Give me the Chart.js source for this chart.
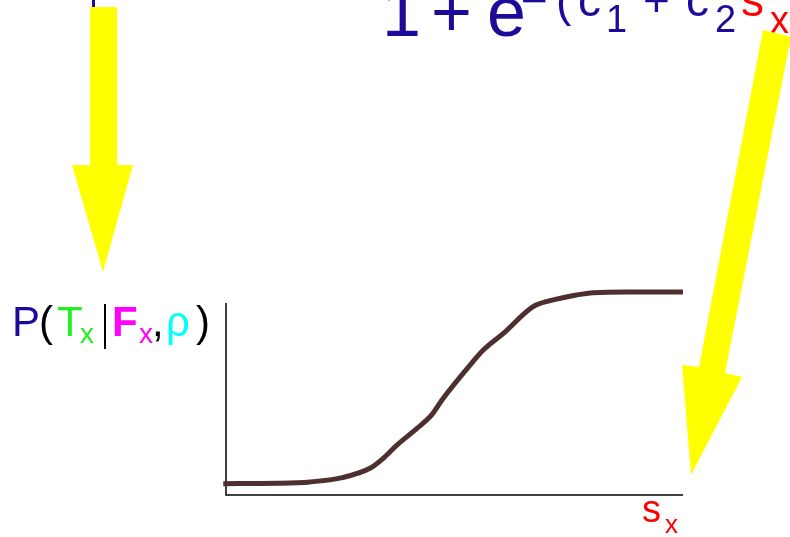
<!DOCTYPE html>
<html>
<head>
<meta charset="utf-8">
<script src="https://cdn.jsdelivr.net/npm/chart.js@4/dist/chart.umd.min.js"></script>
<style>
  html, body { margin: 0; padding: 0; background: #fff; }
  canvas { display: block; }
</style>
</head>
<body>
<canvas id="sigmoid" width="790" height="537"></canvas>
<script>
// s_x along the horizontal axis, P(T_x | F_x, rho) on the vertical one
var sValues = [-0.06, 1.11, 1.84, 2.57, 3.15, 3.44, 3.74, 4.18, 4.5, 4.75, 5.34, 5.63, 6.07, 6.72, 7.09, 7.67, 8.04, 8.77, 10];
var pValues = [0.059, 0.061, 0.068, 0.092, 0.139, 0.191, 0.26, 0.347, 0.417, 0.503, 0.677, 0.755, 0.842, 0.981, 1.012, 1.042, 1.054, 1.057, 1.057];

var BLUE = '#1c0a99';
var FONT = '"Liberation Sans", Arial, sans-serif';

function piece(ctx, text, x, y, size, color, bold) {
  ctx.font = (bold ? 'bold ' : '') + size + 'px ' + FONT;
  ctx.fillStyle = color;
  ctx.fillText(text, x, y);
}

function poly(ctx, pts) {
  ctx.beginPath();
  ctx.moveTo(pts[0][0], pts[0][1]);
  for (var i = 1; i < pts.length; i++) ctx.lineTo(pts[i][0], pts[i][1]);
  ctx.closePath();
  ctx.fill();
}

// plain L-shaped axes, no ticks
var axesPlugin = {
  id: 'axes',
  beforeDatasetsDraw: function(chart) {
    var ctx = chart.ctx, a = chart.chartArea;
    ctx.save();
    ctx.strokeStyle = '#000';
    ctx.lineWidth = 1.5;
    ctx.beginPath();
    ctx.moveTo(a.left, a.top);
    ctx.lineTo(a.left, a.bottom);
    ctx.lineTo(a.right, a.bottom);
    ctx.stroke();
    ctx.restore();
  }
};

// formula, axis labels and the two yellow arrows
var labelsPlugin = {
  id: 'labels',
  afterDraw: function(chart) {
    var ctx = chart.ctx;
    ctx.save();
    ctx.textAlign = 'left';
    ctx.textBaseline = 'alphabetic';

    // denominator of the logistic function
    piece(ctx, '1', 382, 36, 70, BLUE);
    piece(ctx, '+', 431, 36, 70, BLUE);
    piece(ctx, 'e', 487, 36, 70, BLUE);
    piece(ctx, '\u2212', 521, 16, 46, BLUE);
    piece(ctx, '(', 556, 16, 46, BLUE);
    piece(ctx, 'c', 578, 16, 46, BLUE);
    piece(ctx, '1', 606, 32, 38, BLUE);
    piece(ctx, '+', 643, 16, 46, BLUE);
    piece(ctx, 'c', 686, 16, 46, BLUE);
    piece(ctx, '2', 715, 32, 38, BLUE);
    piece(ctx, 's', 741, 16, 46, '#ff0000');
    piece(ctx, 'x', 770, 33, 38, '#ff0000');

    ctx.fillStyle = BLUE;
    ctx.fillRect(92, 0, 3, 8);

    // y label: P(T_x | F_x, rho)
    piece(ctx, 'P', 12, 336, 42, BLUE);
    piece(ctx, '(', 39, 336, 42, '#000');
    piece(ctx, 'T', 57, 336, 42, '#22ee22');
    piece(ctx, 'x', 80, 343, 28, '#22ee22');
    ctx.fillStyle = '#000';
    ctx.fillRect(104, 304, 2, 45);
    piece(ctx, 'F', 112, 336, 42, '#ff00ff', true);
    piece(ctx, 'x', 139, 343, 28, '#ff00ff');
    piece(ctx, ',', 152, 336, 42, '#000');
    piece(ctx, '\u03c1', 166, 336, 42, '#00ffff');
    piece(ctx, ')', 196, 336, 42, '#000');

    // x label: s_x
    piece(ctx, 's', 642, 522, 38, '#ff0000');
    piece(ctx, 'x', 665, 533, 26, '#ff0000');

    // arrows
    ctx.fillStyle = '#ffff00';
    poly(ctx, [[90, 7], [117, 7], [117, 165], [133, 165], [103, 272], [72, 165], [90, 165]]);
    poly(ctx, [[763, 30], [792, 37], [789, 47], [725, 373], [742, 377], [691, 475], [682, 365], [699, 367]]);

    ctx.restore();
  }
};

new Chart(document.getElementById('sigmoid'), {
  type: 'line',
  data: {
    datasets: [{
      data: sValues.map(function(s, i) { return { x: s, y: pValues[i] }; }),
      borderColor: '#4d2f2f',
      borderWidth: 5,
      borderCapStyle: 'butt',
      pointRadius: 0,
      cubicInterpolationMode: 'monotone',
      fill: false,
      clip: false
    }]
  },
  options: {
    responsive: false,
    animation: false,
    layout: { padding: { left: 226, top: 303, right: 107, bottom: 42 } },
    plugins: {
      legend: { display: false },
      tooltip: { enabled: false }
    },
    scales: {
      x: { type: 'linear', min: 0, max: 10, display: false },
      y: { type: 'linear', min: 0, max: 1, display: false }
    }
  },
  plugins: [axesPlugin, labelsPlugin]
});
</script>
</body>
</html>
